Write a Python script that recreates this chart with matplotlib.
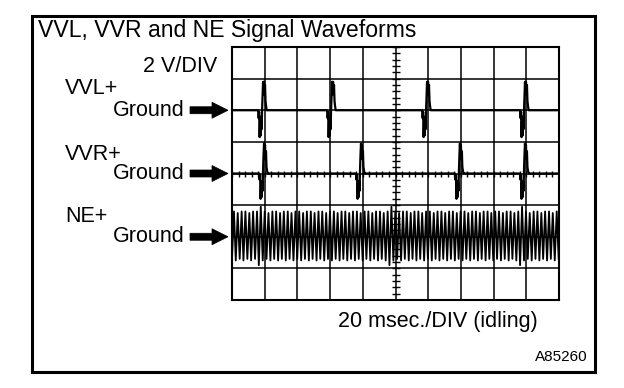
import numpy as np
import matplotlib
matplotlib.use("Agg")
import matplotlib.pyplot as plt
from matplotlib.patches import Rectangle, Polygon

plt.rcParams['font.family'] = ['Liberation Sans', 'DejaVu Sans']

# ---------------- data ----------------
TITLE = "VVL, VVR and NE Signal Waveforms"
VOLT_LABEL = "2 V/DIV"
TIME_LABEL = "20 msec./DIV (idling)"
FIG_ID = "A85260"
CHANNELS = ["VVL+", "VVR+", "NE+"]
GROUND_LABEL = "Ground"

MS_PER_DIV = 20
V_PER_DIV = 2
N_XDIV = 10
N_YDIV = 8

# pulse times (ms) of each VVL / VVR event
VVL_PULSE_MS = [19.6, 61.8, 119.9, 179.8]
VVR_PULSE_MS = [20.2, 79.5, 140.0, 179.8]
# shape of one pulse: time offset (ms) and voltage (V)
PULSE_DT_MS = [-4.2, -3.6, -3.3, -3.0, -2.7, -2.4, -2.1, -1.8, -1.5, -1.2, -0.9,
               -0.6, -0.3, 0.0, 0.3, 0.6, 0.9, 1.2, 1.6, 2.2]
VVL_SHAPE_V = [0.0, 0.0, -0.5, -0.1, -1.7, -0.7, -1.6, -0.4, -1.2, 0.0, 0.9,
               1.8, 1.0, 1.8, 1.1, 1.6, 0.6, 0.3, 0.0, 0.0]
VVR_SHAPE_V = [0.0, 0.0, -0.4, -0.1, -1.6, -0.6, -1.5, -0.5, -1.1, 0.2, 1.2,
               1.9, 1.1, 1.8, 0.9, 1.4, 0.4, 0.2, 0.0, 0.0]

# NE signal: tooth peaks and troughs
NE_PEAK_MS = [1.2, 3.5, 5.9, 8.2, 10.6, 12.9, 15.3, 17.6, 20.0, 22.3, 24.7, 27.0, 29.4, 31.7, 34.1,
              36.4, 38.8, 41.1, 43.5, 45.8, 48.2, 50.5, 52.9, 55.2, 57.6, 59.9, 62.3, 64.6, 67.0,
              69.3, 71.7, 74.0, 76.4, 78.7, 81.1, 83.4, 85.8, 88.1, 90.5, 92.8, 95.2, 97.5, 99.9,
              102.2, 104.6, 106.9, 109.3, 111.6, 114.0, 116.3, 118.7, 121.0, 123.4, 125.7, 128.1,
              130.4, 132.8, 135.1, 137.5, 139.8, 142.2, 144.5, 146.9, 149.2, 151.6, 153.9, 156.3,
              158.6, 161.0, 163.3, 165.7, 168.0, 170.4, 172.7, 175.1, 177.4, 179.8, 182.1, 184.5,
              186.8, 189.2, 191.5, 193.9, 196.2, 198.6]
NE_PEAK_V = [1.6, 1.5, 1.6, 1.6, 1.5, 1.6, 1.6, 1.9, 1.6, 1.5, 1.6, 1.6, 1.5, 1.6, 1.6,
             1.5, 1.6, 1.6, 1.5, 1.6, 1.6, 1.5, 1.6, 1.6, 1.5, 1.6, 1.6, 1.5, 1.6,
             1.6, 1.5, 1.6, 1.6, 1.5, 1.6, 1.6, 1.5, 1.6, 1.6, 1.5, 1.6, 1.9, 1.6,
             1.5, 1.6, 1.6, 1.5, 1.6, 1.6, 1.5, 1.6, 1.6, 1.5, 1.6, 1.6,
             1.5, 1.6, 1.6, 1.5, 1.6, 1.6, 1.5, 1.6, 1.6, 1.5, 1.6, 1.6,
             1.5, 1.6, 1.6, 1.5, 1.6, 1.6, 1.5, 1.6, 1.9, 1.6, 1.5, 1.6,
             1.6, 1.5, 1.6, 1.6, 1.5, 1.6]
NE_TROUGH_MS = [0.0, 2.3, 4.7, 7.0, 9.4, 11.7, 14.1, 16.4, 18.8, 21.1, 23.5, 25.8, 28.2, 30.5, 32.9,
                35.2, 37.6, 39.9, 42.3, 44.6, 47.0, 49.3, 51.7, 54.0, 56.4, 58.7, 61.1, 63.4, 65.8,
                68.1, 70.5, 72.8, 75.2, 77.5, 79.9, 82.2, 84.6, 86.9, 89.3, 91.6, 94.0, 96.3, 98.7,
                101.0, 103.4, 105.7, 108.1, 110.4, 112.8, 115.1, 117.5, 119.8, 122.2, 124.5, 126.9,
                129.2, 131.6, 133.9, 136.3, 138.6, 141.0, 143.3, 145.7, 148.0, 150.4, 152.7, 155.1,
                157.4, 159.8, 162.1, 164.5, 166.8, 169.2, 171.5, 173.9, 176.2, 178.6, 180.9, 183.3,
                185.6, 188.0, 190.3, 192.7, 195.0, 197.4, 199.8]
NE_TROUGH_V = [-1.4, -1.5, -1.4, -1.5, -1.4, -1.5, -1.4, -1.8, -1.5, -1.4, -1.5, -1.4, -1.5, -1.4, -1.5,
               -1.4, -1.5, -1.4, -1.5, -1.4, -1.5, -1.4, -1.5, -1.4, -1.5, -1.4, -1.5, -1.4, -1.5,
               -1.4, -1.5, -1.4, -1.5, -1.4, -1.5, -1.4, -1.5, -1.4, -1.5, -1.4, -1.5, -1.8, -1.5,
               -1.4, -1.5, -1.4, -1.5, -1.4, -1.5, -1.4, -1.5, -1.4, -1.5, -1.4, -1.5,
               -1.4, -1.5, -1.4, -1.5, -1.4, -1.5, -1.4, -1.5, -1.4, -1.5, -1.4, -1.5,
               -1.4, -1.5, -1.4, -1.5, -1.4, -1.5, -1.4, -1.5, -1.8, -1.5, -1.4, -1.5,
               -1.4, -1.5, -1.4, -1.5, -1.4, -1.5, -1.4]

# ground level of each channel, in divisions above screen centre
GROUND_DIV = [2, 0, -2]


def pulse_train(pulse_ms, shape_v):
    t = [0.0]
    v = [0.0]
    for p in pulse_ms:
        for dt, sv in zip(PULSE_DT_MS, shape_v):
            t.append(p + dt)
            v.append(sv)
    t.append(N_XDIV * MS_PER_DIV)
    v.append(0.0)
    return np.array(t), np.array(v)


# ---------------- figure ----------------
W, H = 624, 388
fig = plt.figure(figsize=(W / 100, H / 100), dpi=100)

bg = fig.add_axes([0, 0, 1, 1])
bg.set_xlim(0, W)
bg.set_ylim(H, 0)
bg.axis('off')

# scope screen in pixels
GX0, GX1, GY0, GY1 = 232, 559, 47, 300
ax = fig.add_axes([GX0 / W, 1 - GY1 / H, (GX1 - GX0) / W, (GY1 - GY0) / H])
ymax = N_YDIV / 2 * V_PER_DIV
ax.set_xlim(0, N_XDIV * MS_PER_DIV)
ax.set_ylim(-ymax, ymax)
ax.set_xticks(np.arange(0, N_XDIV * MS_PER_DIV + 1, MS_PER_DIV))
ax.set_yticks(np.arange(-ymax, ymax + 0.1, V_PER_DIV))
ax.grid(True, color='black', lw=1.1)
ax.tick_params(length=0, labelbottom=False, labelleft=False)
for s in ax.spines.values():
    s.set_linewidth(1.5)
ax.set_axisbelow(True)

# minor graduation marks on the centre lines
xc = N_XDIV * MS_PER_DIV / 2
ax.plot(np.arange(0, N_XDIV * MS_PER_DIV + 0.1, MS_PER_DIV / 5), np.zeros(N_XDIV * 5 + 1),
        ls='none', marker='|', ms=5, mew=1.0, color='black')
ax.plot(np.full(N_YDIV * 5 + 1, xc), np.arange(-ymax, ymax + 0.01, V_PER_DIV / 5),
        ls='none', marker='_', ms=6, mew=1.0, color='black')

# VVL
t, v = pulse_train(VVL_PULSE_MS, VVL_SHAPE_V)
ax.plot(t, v + GROUND_DIV[0] * V_PER_DIV, color='black', lw=1.6)
# VVR
t, v = pulse_train(VVR_PULSE_MS, VVR_SHAPE_V)
ax.plot(t, v + GROUND_DIV[1] * V_PER_DIV, color='black', lw=1.6)
# NE
ne_t = np.empty(len(NE_PEAK_MS) + len(NE_TROUGH_MS))
ne_v = np.empty_like(ne_t)
ne_t[0::2] = NE_TROUGH_MS
ne_t[1::2] = NE_PEAK_MS
ne_v[0::2] = NE_TROUGH_V
ne_v[1::2] = NE_PEAK_V
ax.plot(ne_t, ne_v + GROUND_DIV[2] * V_PER_DIV, color='black', lw=1.3)

# ---------------- frame and labels ----------------
bg.add_patch(Rectangle((32, 16), 595 - 32, 372 - 16, fill=False, lw=2.2, ec='black'))

FS = 15.5
bg.text(38, 31, TITLE, fontsize=16.6, va='center', ha='left')
bg.text(217, 66, VOLT_LABEL, fontsize=FS, va='center', ha='right')

label_y = [89, 155, 216]
ground_y = [GY0 + (N_YDIV / 2 - g) * (GY1 - GY0) / N_YDIV for g in GROUND_DIV]
for name, ly, gy in zip(CHANNELS, label_y, ground_y):
    bg.text(65, ly, name, fontsize=FS, va='center', ha='left')
    bg.text(185, gy, GROUND_LABEL, fontsize=FS, va='center', ha='right')
    bg.add_patch(Polygon([(190, gy - 3.5), (212, gy - 3.5), (212, gy - 8), (228, gy),
                          (212, gy + 8), (212, gy + 3.5), (190, gy + 3.5)],
                         closed=True, fc='black', ec='black', lw=0.5))

bg.text(438, 321, TIME_LABEL, fontsize=FS, va='center', ha='center')
bg.text(588, 357, FIG_ID, fontsize=11, va='center', ha='right')

fig.savefig("out.png", dpi=100)
